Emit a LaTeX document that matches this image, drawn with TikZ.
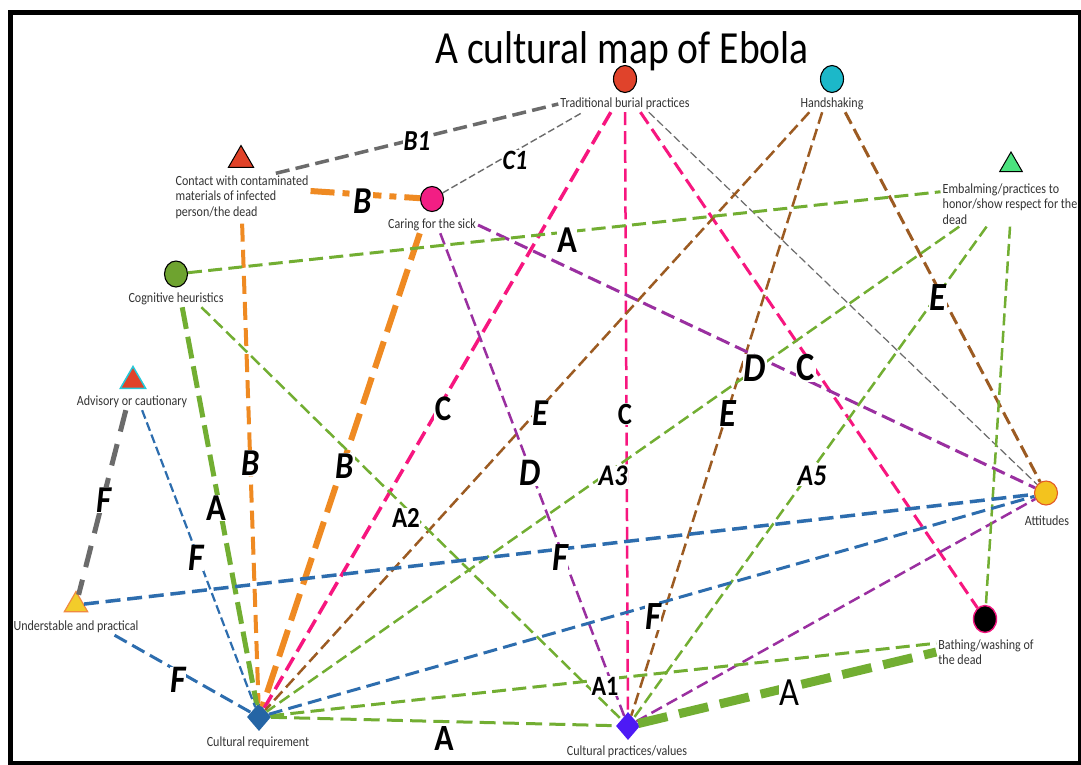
\documentclass[tikz,border=0pt]{standalone}
\usepackage{fontspec}
\setmainfont{Carlito}[FakeStretch=0.86]
\usetikzlibrary{shapes.geometric}

\definecolor{lgray}{HTML}{6B6B6B}
\definecolor{lorange}{HTML}{EF8A22}
\definecolor{lpink}{HTML}{F7167F}
\definecolor{lbrown}{HTML}{9C5B22}
\definecolor{lpurple}{HTML}{9A2FA0}
\definecolor{lgreen}{HTML}{72AE32}
\definecolor{lblue}{HTML}{2D6DAE}
\definecolor{txt}{HTML}{333333}

\begin{document}
\begin{tikzpicture}[x=1pt,y=-1pt,
  conc/.style={font=\fontsize{14}{15.5}\selectfont, text=txt, inner sep=2pt},
  circ/.style={ellipse, draw=black, line width=1.1pt, minimum width=23pt, minimum height=27pt, inner sep=0pt},
  tri/.style={regular polygon, regular polygon sides=3, minimum size=29pt, inner sep=0pt, draw=black, line width=1pt},
  diam/.style={diamond, minimum width=24pt, minimum height=28pt, inner sep=0pt},
  ltr/.style={fill=white, inner sep=0.5pt, font=\bfseries\fontsize{#1}{#1}\selectfont},
  iltr/.style={fill=white, inner sep=0.5pt, font=\bfseries\itshape\fontsize{#1}{#1}\selectfont},
  rltr/.style={fill=white, inner sep=0.5pt, font=\fontsize{#1}{#1}\selectfont},
  dsh/.style 2 args={line width=#1, dash pattern=on #2 off 0.45*#2},
]
\useasboundingbox (0,0) rectangle (1081,764);
\fill[white] (0,0) rectangle (1081,764);
\draw[line width=5pt] (10.5,12.5) rectangle (1080.5,763.5);

% title
\node[anchor=base, font=\fontsize{46}{50}\selectfont, text=black] (title) at (622,63) {A cultural map of Ebola};

% concept markers
\node[circ, fill={rgb,255:red,224;green,67;blue,43}] (trad) at (625,79) {};
\node[circ, fill={rgb,255:red,28;green,184;blue,201}] (hand) at (832,79) {};
\node[tri, fill={rgb,255:red,224;green,66;blue,40}] (contact) at (241,160) {};
\node[circ, fill={rgb,255:red,242;green,30;blue,132}, minimum height=25pt] (caring) at (432,199) {};
\node[tri, fill={rgb,255:red,75;green,226;blue,126}, minimum size=26pt] (emb) at (1011,165) {};
\node[circ, fill={rgb,255:red,110;green,163;blue,47}, minimum height=26pt] (cog) at (176,274) {};
\node[tri, fill={rgb,255:red,224;green,66;blue,40}, draw={rgb,255:red,37;green,200;blue,216}, line width=1.5pt] (adv) at (133,381) {};
\node[tri, fill={rgb,255:red,242;green,204;blue,42}, draw={rgb,255:red,240;green,138;blue,64}, line width=1.2pt, minimum size=27pt] (und) at (76,605) {};
\node[diam, fill={rgb,255:red,37;green,101;blue,165}] (cr) at (259,717) {};
\node[diam, fill={rgb,255:red,77;green,26;blue,245}] (cp) at (628,726) {};
\node[circ, fill={rgb,255:red,243;green,195;blue,30}, draw={rgb,255:red,226;green,90;blue,38}, minimum height=24pt] (att) at (1046,493) {};
\node[circ, fill=black, draw={rgb,255:red,240;green,20;blue,125}, line width=1.4pt] (bath) at (985,619) {};

% concept names
\node[conc] (tradL) at (625,104) {Traditional burial practices};
\node[conc] (handL) at (832,104) {Handshaking};
\node[conc, align=left] (contactL) at (242,197) {Contact with contaminated\\materials of infected\\person/the dead};
\node[conc] (caringL) at (432,225) {Caring for the sick};
\node[conc, align=left] (embL) at (1010,204) {Embalming/practices to\\honor/show respect for the\\dead};
\node[conc] (cogL) at (176,299) {Cognitive heuristics};
\node[conc] (advL) at (132,402) {Advisory or cautionary};
\node[conc] (undL) at (76,627) {Understable and practical};
\node[conc] (crL) at (258,743) {Cultural requirement};
\node[conc] (cpL) at (627,752) {Cultural practices/values};
\node[conc] (attL) at (1047,521) {Attitudes};
\node[conc, align=left] (bathL) at (986,652) {Bathing/washing of\\the dead};

% grey links
\draw[lgray, dsh={3.5pt}{14pt}] (contactL.35) -- (tradL.west);
\draw[lgray, dsh={1.4pt}{7pt}] (caring) -- (tradL.191);
\draw[lgray, dsh={1.2pt}{8pt}] (tradL.341) -- (att);
\draw[lgray, line width=5pt, dash pattern=on 22pt off 13pt] (advL.233) -- (und);

% orange links
\draw[lorange, line width=6pt, dash pattern=on 24pt off 8pt on 7pt off 8pt] (contactL.5) -- (caring);
\draw[lorange, dsh={4pt}{18pt}, shorten <=3pt] (contactL.south) -- (cr);
\draw[lorange, line width=6pt, dash pattern=on 28pt off 10pt] (caringL.214) -- (cr);

% pink links
\draw[lpink, dsh={3.5pt}{15pt}] (tradL.210) -- (cr);
\draw[lpink, dsh={2.5pt}{13pt}] (tradL.south) -- (cp);
\draw[lpink, dsh={3pt}{14pt}] (tradL.332) -- (bath);

% brown links
\draw[lbrown, dsh={2.5pt}{12pt}] (handL.200) -- (cr);
\draw[lbrown, dsh={2.5pt}{12pt}] (handL.220) -- (cp);
\draw[lbrown, dsh={3pt}{13pt}] (handL.328) -- (att);

% purple links
\draw[lpurple, dsh={3pt}{14pt}] (caringL.east) -- (att);
\draw[lpurple, dsh={2.5pt}{12pt}] (caringL.315) -- (cp);
\draw[lpurple, dsh={2.5pt}{12pt}] (cp) -- (att);

% green links
\draw[lgreen, dsh={3pt}{14pt}] (cog) -- (embL.170);
\draw[lgreen, line width=5pt, dash pattern=on 22pt off 8pt] (cogL.-53) -- (cr);
\draw[lgreen, dsh={2.5pt}{12pt}] (cogL.-18) -- (cp);
\draw[lgreen, dsh={2.5pt}{12pt}] (embL.204) -- (cr);
\draw[lgreen, dsh={2.5pt}{12pt}] (embL.224) -- (cp);
\draw[lgreen, dsh={2.5pt}{12pt}] (embL.south) -- (bath);
\draw[lgreen, dsh={3pt}{14pt}] (cr) -- (bathL.170);
\draw[lgreen, dsh={3pt}{16pt}] (cr) -- (cp);
\draw[lgreen, line width=9pt, dash pattern=on 30pt off 12pt] (cp) -- (bathL.west);

% blue links
\draw[lblue, dsh={2.2pt}{9pt}] (advL.-39) -- (cr);
\draw[lblue, dsh={3pt}{14pt}] (undL.-12) -- (cr);
\draw[lblue, dsh={3.5pt}{15pt}] (und) -- (att);
\draw[lblue, dsh={3pt}{14pt}] (cr) -- (att);

% link letters
\node[iltr=29] (t1) at (417,141) {B1};
\node[iltr=28] (t2) at (515,160) {C1};
\node[iltr=38] (t3) at (363,201) {B};
\node[ltr=38] (t4) at (567,240) {A};
\node[ltr=38] (t5) at (216,508) {A};
\node[iltr=38] (t6) at (251,463) {B};
\node[iltr=38] (t7) at (345,466) {B};
\node[ltr=36] (t8) at (443,409) {C};
\node[iltr=38] (t9) at (540,413) {E};
\node[ltr=31] (t10) at (625,414) {C};
\node[iltr=39] (t11) at (530,473) {D};
\node[iltr=30] (t12) at (613,476) {A3};
\node[ltr=29] (t13) at (406,518) {A2};
\node[iltr=41] (t14) at (755,368) {D};
\node[ltr=40] (t15) at (806,368) {C};
\node[iltr=40] (t16) at (728,414) {E};
\node[iltr=30] (t17) at (812,476) {A5};
\node[iltr=40] (t18) at (938,298) {E};
\node[iltr=38] (t19) at (104,500) {F};
\node[iltr=39] (t20) at (196,558) {F};
\node[iltr=39] (t21) at (178,680) {F};
\node[iltr=40] (t22) at (560,558) {F};
\node[iltr=40] (t23) at (653,617) {F};
\node[ltr=28] (t24) at (605,686) {A1};
\node[ltr=37] (t25) at (444,738) {A};
\node[rltr=40] (t26) at (789,693) {A};
\end{tikzpicture}
\end{document}
